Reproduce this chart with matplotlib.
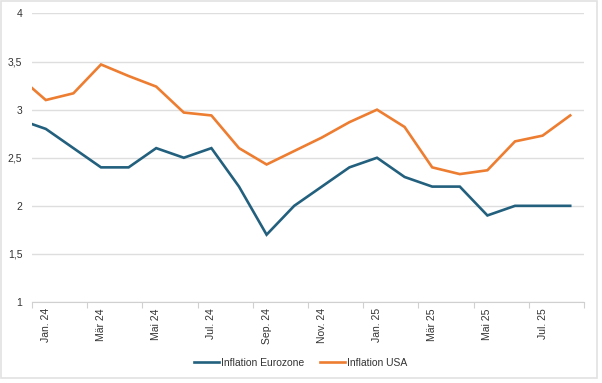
import numpy as np
from matplotlib import pyplot as plt
from matplotlib.patches import Rectangle

# monthly values, Dec 23 (clipped at the left edge) through Aug 25
months = ['Dez. 23', 'Jan. 24', 'Feb. 24', 'Mär 24', 'Apr. 24', 'Mai 24', 'Jun. 24',
          'Jul. 24', 'Aug. 24', 'Sep. 24', 'Okt. 24', 'Nov. 24', 'Dez. 24',
          'Jan. 25', 'Feb. 25', 'Mär 25', 'Apr. 25', 'Mai 25', 'Jun. 25',
          'Jul. 25', 'Aug. 25']
eurozone = [2.9, 2.8, 2.6, 2.4, 2.4, 2.6, 2.5, 2.6, 2.2, 1.7, 2.0, 2.2, 2.4,
            2.5, 2.3, 2.2, 2.2, 1.9, 2.0, 2.0, 2.0]
usa = [3.35, 3.1, 3.17, 3.47, 3.35, 3.24, 2.97, 2.94, 2.6, 2.43, 2.57, 2.71, 2.87,
       3.0, 2.82, 2.4, 2.33, 2.37, 2.67, 2.73, 2.94]
yticks = [1, 1.5, 2, 2.5, 3, 3.5, 4]
ytick_labels = ['1', '1,5', '2', '2,5', '3', '3,5', '4']

plt.rcParams['font.family'] = ['Liberation Sans', 'DejaVu Sans']

W, H = 602, 383
fig = plt.figure(figsize=[W / 100, H / 100], dpi=100)
fig.patch.set_facecolor('w')
fig.patches.append(Rectangle((1 / W, 5 / H), 596 / W, 377 / H, transform=fig.transFigure,
                             fill=False, edgecolor='#e2e2e2', lw=1.2))

ax = fig.add_axes([32 / W, (H - 302) / H, 552 / W, (302 - 13.5) / H])

x = np.arange(len(months)) - 1
blue = '#22607e'
orange = '#ed7d31'
ax.plot(x, eurozone, c=blue, lw=1.9, label='Inflation Eurozone', solid_joinstyle='miter')
ax.plot(x, usa, c=orange, lw=1.9, label='Inflation USA', solid_joinstyle='miter')

ax.set_xlim(-0.5, 19.5)
ax.set_ylim(1, 4)

# tick marks between categories, labels on every second month
ax.set_xticks(np.arange(-0.5, 20, 2))
ax.set_xticklabels([])
ax.set_xticks(x[1::2], [months[i] for i in range(1, len(months), 2)], minor=True)
ax.tick_params(axis='x', which='major', length=4, color='#d0d0d0', width=0.8)
ax.tick_params(axis='x', which='minor', length=0, pad=4.5, labelrotation=90,
               labelsize=7.5, labelcolor='#333333')

ax.set_yticks(yticks, ytick_labels)
ax.tick_params(axis='y', length=0, pad=7, labelsize=7.5, labelcolor='#333333')
ax.grid(axis='y', color='#dedede', lw=1)
ax.set_axisbelow(True)

for s in ['top', 'right', 'left']:
    ax.spines[s].set_visible(False)
ax.spines['bottom'].set_color('#d0d0d0')
ax.spines['bottom'].set_linewidth(0.8)

fig.legend(loc='center', bbox_to_anchor=(0.5, 1 - 363 / H), ncol=2, frameon=False,
           fontsize=7.5, handlelength=2.4, handletextpad=0.2, columnspacing=1.5,
           labelcolor='#333333')

plt.savefig('out.png', dpi=100)
